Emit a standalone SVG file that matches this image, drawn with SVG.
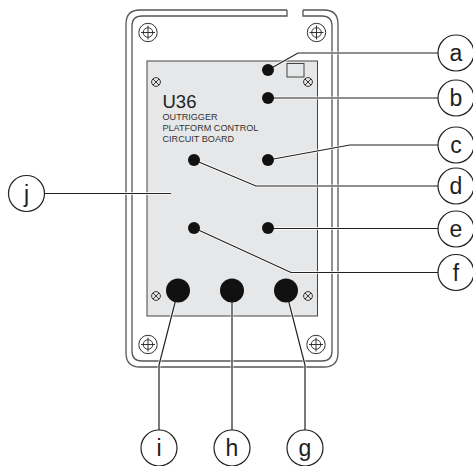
<svg xmlns="http://www.w3.org/2000/svg" width="473" height="466" viewBox="0 0 473 466">
<style>
.o{fill:none;stroke:#555;stroke-width:1.3}
.s{fill:none;stroke:#333;stroke-width:1}
.l{fill:none;stroke:#222;stroke-width:1.2}
.h{fill:none;stroke:#fff;stroke-width:3;stroke-opacity:.75}
.c{fill:#fff;stroke:#222;stroke-width:1.2}
.t{font-family:"Liberation Sans",Arial,sans-serif;fill:#222;text-anchor:middle;font-size:23px}
.b{font-family:"Liberation Sans",Arial,sans-serif;fill:#333;font-size:9.1px}
.d{fill:#111}
</style>
<defs>
<g id="screw"><circle r="9.2" class="s"/><circle r="4.8" class="s"/><path d="M0-7V7M-7 0H7" class="s"/></g>
<g id="small"><circle r="4.4" class="s"/><path d="M-3-3L3 3M-3 3L3-3" class="s"/></g>
</defs>
<g id="enclosure">
<path class="o" d="M287 10H140Q126 10 126 24V353Q126 367 140 367H324Q338 367 338 353V24Q338 10 324 10H303"/>
<path class="o" d="M287 10V16H142Q132 16 132 26V351Q132 361 142 361H322Q332 361 332 351V26Q332 16 322 16H303V10"/>
<rect x="147" y="61" width="170.500" height="255" fill="#e6e7e8" stroke="#444" stroke-width="1"/>
<rect x="287" y="63.500" width="17" height="13.500" fill="none" stroke="#444" stroke-width="1"/>
<use href="#screw" x="148" y="32.500"/><use href="#screw" x="316.500" y="32.500"/><use href="#screw" x="148" y="344.500"/><use href="#screw" x="316" y="344.500"/>
<use href="#small" x="156" y="82"/><use href="#small" x="308" y="82"/><use href="#small" x="156" y="296"/><use href="#small" x="308" y="296"/>
<text x="162.500" y="107.500" font-family="Liberation Sans,Arial,sans-serif" font-size="18.500" fill="#222">U36</text>
<text class="b" x="162.500" y="119.500">OUTRIGGER</text>
<text class="b" x="162.500" y="131">PLATFORM CONTROL</text>
<text class="b" x="162.500" y="142">CIRCUIT BOARD</text>
</g>
<g id="connectors">
<path class="h" d="M268 70L298 53H438M268 98H438M268 160L350 145H438M194 160L256 186H438M268 228.500H438M194 228L291 272.500H438M286 291L305 365V430M232 291V430M178 291L159 365V430M45 193.500H171"/>
<path class="l" d="M268 70L298 53H438"/><path class="l" d="M268 98H438"/><path class="l" d="M268 160L350 145H438"/>
<path class="l" d="M194 160L256 186H438"/><path class="l" d="M268 228.500H438"/><path class="l" d="M194 228L291 272.500H438"/>
<path class="l" d="M286 291L305 365V430"/><path class="l" d="M232 291V430"/><path class="l" d="M178 291L159 365V430"/>
<path class="l" d="M45 193.500H171"/>
</g>
<g id="points">
<circle class="d" cx="268" cy="70" r="6"/><circle class="d" cx="268" cy="98" r="6"/><circle class="d" cx="268" cy="160" r="6"/><circle class="d" cx="194" cy="160" r="6"/><circle class="d" cx="268" cy="228" r="6"/><circle class="d" cx="194" cy="228" r="6"/>
<circle class="d" cx="178" cy="290.500" r="12"/><circle class="d" cx="232" cy="290.500" r="12"/><circle class="d" cx="286" cy="290.500" r="12"/>
</g>
<g id="a"><circle class="c" cx="456" cy="53" r="18"/><text class="t" x="456" y="61">a</text></g>
<g id="b"><circle class="c" cx="456" cy="98" r="18"/><text class="t" x="456" y="106">b</text></g>
<g id="c"><circle class="c" cx="456" cy="145" r="18"/><text class="t" x="456" y="153">c</text></g>
<g id="d"><circle class="c" cx="456" cy="186" r="18"/><text class="t" x="456" y="194">d</text></g>
<g id="e"><circle class="c" cx="456" cy="229" r="18"/><text class="t" x="456" y="237">e</text></g>
<g id="f"><circle class="c" cx="456" cy="272.500" r="18"/><text class="t" x="456" y="280.500">f</text></g>
<g id="g"><circle class="c" cx="305" cy="448" r="18"/><text class="t" x="305" y="456">g</text></g>
<g id="h"><circle class="c" cx="232" cy="448" r="18"/><text class="t" x="232" y="456">h</text></g>
<g id="i"><circle class="c" cx="159" cy="448" r="18"/><text class="t" x="159" y="456">i</text></g>
<g id="j"><circle class="c" cx="26.500" cy="193.500" r="18"/><text class="t" x="26.500" y="201.500">j</text></g>
</svg>
